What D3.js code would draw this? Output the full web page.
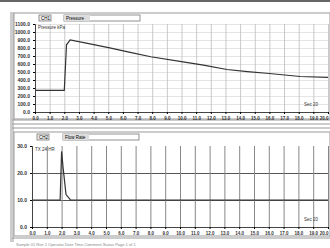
<!DOCTYPE html>
<html lang="en">
<head>
<meta charset="utf-8">
<title>Pressure and flow trace</title>
<script src="https://cdn.jsdelivr.net/npm/d3@7"></script>
<style>
  body { margin: 0; background: #fff; }
  svg { display: block; font-family: "Liberation Sans", Arial, sans-serif; }
</style>
</head>
<body>
<script>
// time axis (seconds) shared by both panels
var timeTicks = d3.range(0, 21, 1);

// top panel: pressure trace
var pressTime = [0, 1, 2.0, 2.15, 2.4, 3.5, 5.1, 6.5, 7.9, 10, 11.5, 13.1, 14.5, 16, 18.1, 20];
var pressVal = [270, 270, 270, 840, 901, 860, 802, 745, 691, 630, 585, 531, 505, 481, 444, 432];
var pressTicks = [0, 100, 200, 300, 400, 500, 600, 700, 800, 900, 1000, 1100];

// bottom panel: flow trace
var flowTime = [0, 1.5, 1.9, 2.0, 2.1, 2.3, 2.6, 20];
var flowVal = [10, 10, 10, 28, 22, 12, 10, 10];
var flowTicks = [0, 10, 20, 30];

var w = 330, h = 248;
var svg = d3.select("body").append("svg").attr("width", w).attr("height", h);

// page frame
svg.append("line").attr("x1", 0).attr("x2", w).attr("y1", 1).attr("y2", 1)
  .attr("stroke", "#666").attr("stroke-width", 2);
svg.append("rect").attr("x", 10).attr("y", 12).attr("width", 4).attr("height", 230).attr("fill", "#ccc");
[120, 124, 128, 238].forEach(function(y) {
  svg.append("line").attr("x1", 12).attr("x2", w).attr("y1", y).attr("y2", y)
    .attr("stroke", "#999").attr("stroke-width", 1);
});
svg.append("text").attr("x", 16).attr("y", 246).attr("font-size", 4).attr("fill", "#888")
  .text("Sample 01   Run 1   Operator   Date   Time   Comment   Status   Page 1 of 1");

function panel(opt) {
  var x = d3.scaleLinear().domain([0, 20]).range([opt.left, 328]);
  var y = d3.scaleLinear().domain(opt.yDomain).range([opt.bottom, opt.top]);
  var g = svg.append("g");

  g.append("rect").attr("x", 14).attr("y", opt.frameTop).attr("width", w - 14)
    .attr("height", opt.frameBottom - opt.frameTop).attr("fill", "none").attr("stroke", "#999");

  // header boxes
  g.append("rect").attr("x", opt.hx1).attr("y", opt.frameTop + 2).attr("width", 12).attr("height", 6)
    .attr("fill", "#eee").attr("stroke", "#777").attr("stroke-width", 0.8);
  g.append("text").attr("x", opt.hx1 + 2).attr("y", opt.frameTop + 7).attr("font-size", 4.5).text(opt.chan);
  g.append("rect").attr("x", opt.hx2).attr("y", opt.frameTop + 2).attr("width", 76).attr("height", 6)
    .attr("fill", "#fff").attr("stroke", "#777").attr("stroke-width", 0.8);
  g.append("rect").attr("x", opt.hx2).attr("y", opt.frameTop + 2).attr("width", 26).attr("height", 6)
    .attr("fill", "#ddd");
  g.append("text").attr("x", opt.hx2 + 2).attr("y", opt.frameTop + 7).attr("font-size", 4.5).text(opt.name);

  // horizontal grid
  g.append("g").attr("transform", "translate(" + opt.left + ",0)")
    .call(d3.axisLeft(y).tickValues(opt.gridY).tickSize(-(328 - opt.left)).tickFormat(""))
    .call(function(s) {
      s.select(".domain").remove();
      s.selectAll("line").attr("stroke", opt.hColor).attr("stroke-width", opt.hWidth);
    });
  // vertical grid
  g.append("g").attr("transform", "translate(0," + opt.bottom + ")")
    .call(d3.axisBottom(x).tickValues(timeTicks).tickSize(-(opt.bottom - opt.top)).tickFormat(""))
    .call(function(s) {
      s.select(".domain").remove();
      s.selectAll("line").attr("stroke", opt.vColor).attr("stroke-width", opt.vWidth);
    });

  // y axis labels
  g.append("g").attr("transform", "translate(" + opt.left + ",0)")
    .call(d3.axisLeft(y).tickValues(opt.yTicks).tickSize(2).tickFormat(d3.format(".1f")))
    .call(function(s) {
      s.select(".domain").attr("stroke", "#444");
      s.selectAll("text").attr("font-size", 5).attr("font-weight", "bold").attr("fill", "#333");
    });
  // x axis labels
  g.append("g").attr("transform", "translate(0," + opt.bottom + ")")
    .call(d3.axisBottom(x).tickValues(timeTicks).tickSize(2).tickFormat(function(d) { return d + ".0"; }))
    .call(function(s) {
      s.select(".domain").attr("stroke", "#444");
      s.selectAll("text").attr("font-size", 4.5).attr("font-weight", "bold").attr("fill", "#333")
        .attr("text-anchor", function(d) { return d === 20 ? "end" : "middle"; });
    });

  var line = d3.line().x(function(d) { return x(d[0]); }).y(function(d) { return y(d[1]); });
  g.append("path").datum(d3.zip(opt.t, opt.v)).attr("d", line)
    .attr("fill", "none").attr("stroke", "#333").attr("stroke-width", 1.2);

  g.append("text").attr("x", opt.left + 3).attr("y", opt.top + 5).attr("font-size", 4.5).attr("fill", "#333").text(opt.legend);
  g.append("text").attr("x", 318).attr("y", opt.bottom - 6).attr("text-anchor", "end")
    .attr("font-size", 4.5).attr("fill", "#333").text("Sec  20");
}

panel({
  left: 35, top: 24, bottom: 112, frameTop: 13, frameBottom: 119,
  yDomain: [0, 1100], yTicks: pressTicks, gridY: pressTicks, t: pressTime, v: pressVal,
  chan: "CH1", name: "Pressure", hx1: 39, hx2: 64, legend: "Pressure kPa",
  hColor: "#ddd", hWidth: 0.8, vColor: "#bbb", vWidth: 0.8
});
panel({
  left: 32, top: 146, bottom: 227, frameTop: 132, frameBottom: 236,
  yDomain: [0, 30], yTicks: flowTicks, gridY: [10, 20], t: flowTime, v: flowVal,
  chan: "CH2", name: "Flow Rate", hx1: 37, hx2: 63, legend: "TX 24 HR",
  hColor: "#555", hWidth: 1.2, vColor: "#888", vWidth: 1
});
</script>
</body>
</html>
